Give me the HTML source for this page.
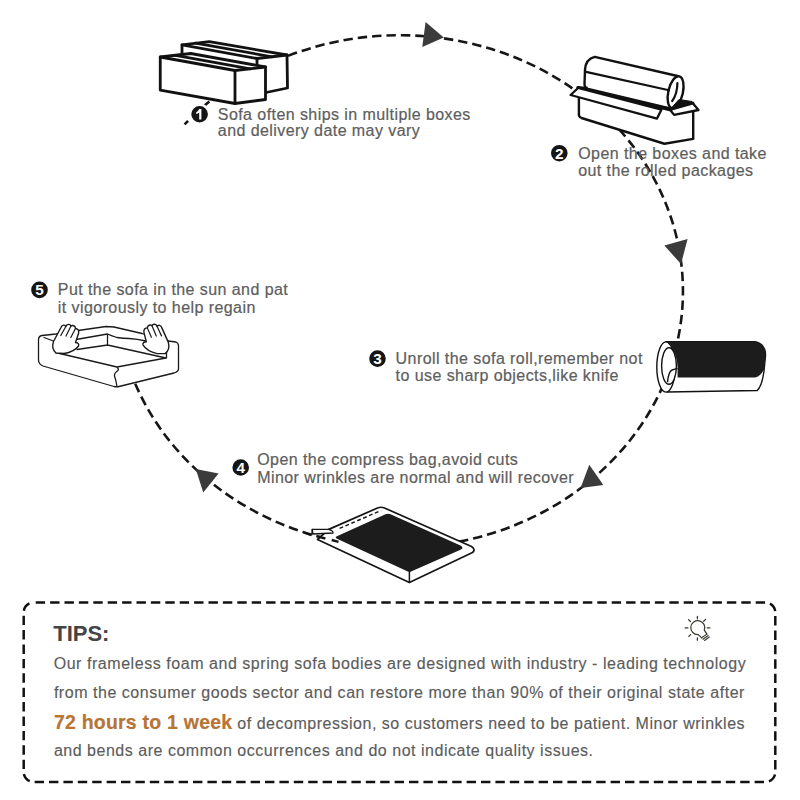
<!DOCTYPE html>
<html><head><meta charset="utf-8">
<style>
html,body{margin:0;padding:0;background:#fff;width:800px;height:800px;overflow:hidden}
svg{position:absolute;left:0;top:0}
.t{font-family:"Liberation Sans",sans-serif;font-size:16px;fill:#5e5e5e;stroke:#5e5e5e;stroke-width:0.22px;letter-spacing:0.43px}
.n{font-family:"Liberation Sans",sans-serif;font-size:15.3px;font-weight:bold;fill:#fff;text-anchor:middle}
.ln{fill:none;stroke:#111;stroke-width:2.8;stroke-linejoin:round;stroke-linecap:round}
.th{fill:#fff;stroke:#111;stroke-width:1.4;stroke-linejoin:round;stroke-linecap:round}
.b{font-family:"Liberation Sans",sans-serif;font-size:16px;fill:#5c5c5c;stroke:#5c5c5c;stroke-width:0.15px}
.or{fill:#be742e;font-weight:bold;font-size:19.5px;letter-spacing:0.22px}
</style></head>
<body>
<svg width="800" height="800" viewBox="0 0 800 800">
  <!-- main dashed ellipse path -->
  <path d="M184.6 124.4 A283.4 256.05 0 1 1 135.0 383.1" fill="none" stroke="#161616" stroke-width="2.6" stroke-dasharray="9.4 4.99" stroke-dashoffset="-10.1"/>
  <!-- arrows -->
  <g fill="#3b3b3b">
    <polygon points="425.6,21.9 422.25,46.9 443.75,37.5"/>
    <polygon points="664.4,245.6 687.6,239 681,264"/>
    <polygon points="589.25,464.75 603.35,485 580.6,488"/>
    <polygon points="195.75,469.1 218.6,473.6 203.25,492.4"/>
  </g>

  <!-- STEP 1: boxes -->
  <g class="ln" fill="#fff">
    <!-- back box -->
    <polygon points="182,44.8 209.3,41.6 287,55 287.5,88 266,92.5 182,75" fill="#fff"/>
    <polyline points="182,44.8 257,58.5 287,55" />
    <line x1="257" y1="58.5" x2="257" y2="70"/>
    <line x1="195.6" y1="43.2" x2="272" y2="56.8"/>
    <!-- front box -->
    <polygon points="160.25,57 190.75,53.5 265.5,67 265.5,99.5 235,103.5 160.25,90.1" fill="#fff"/>
    <polyline points="160.25,57 235,70.5 265.5,67"/>
    <line x1="235" y1="70.5" x2="235" y2="103.5"/>
    <line x1="175.5" y1="55.3" x2="250.3" y2="68.8"/>
  </g>

  <!-- STEP 2: box with roll -->
  <g stroke="#111" stroke-linejoin="round" stroke-linecap="round">
    <!-- box body -->
    <path d="M578.9,95 L578.9,114.5 Q578.9,117 581.5,118 L664.4,143.75 L693.2,138.9 L693.2,103 L670,109.6 L578.1,87.5 Z" fill="#fff" stroke-width="2.4"/>
    <!-- roll -->
    <path d="M594.75,56.8 L677.5,76 L670,108.3 L588,89 Q584.5,88 584.5,84 L585,70 Q585.5,59 594.75,56.8 Z" fill="#fff" stroke-width="2.4"/>
    <ellipse cx="675.6" cy="92.2" rx="7.3" ry="16.3" transform="rotate(13 675.6 92.2)" fill="#fff" stroke-width="2.4"/>
    <path d="M677.4,83 Q677.3,94 672.2,101" fill="none" stroke-width="2.2"/>
    <line x1="586" y1="71.9" x2="669" y2="90.3" stroke-width="2.2"/>
    <!-- dark interior -->
    <polygon points="577.3,86.8 587.5,87.2 584,90 578.1,89.9" fill="#111" stroke-width="1"/>
    <polygon points="670,109.6 679,99.5 692,101.5 693.2,102.7" fill="#111" stroke-width="1"/>
    <line x1="578.1" y1="87.8" x2="670" y2="109.6" stroke-width="3.2"/>
    <!-- front flap -->
    <polygon points="578.1,88 661.5,109.6 657,118.6 570.6,95" fill="#fff" stroke-width="2.3"/>
    <!-- right flap -->
    <polygon points="670,109.8 692.8,103.3 698.5,110 674.1,114.9" fill="#fff" stroke-width="2.3"/>
  </g>

  <!-- STEP 3: rolled sofa -->
  <g stroke="#111" stroke-width="1.4" stroke-linejoin="round">
    <path d="M666,341.75 L755,341.75 Q766,344 765.5,356 L764,371 Q762,386 757.25,390.5 L667,392 Z" fill="#fff"/>
    <ellipse cx="666" cy="367" rx="9.2" ry="25.1" fill="#fff"/>
    <path d="M666.5,341.75 L755,341.75 Q766,344 765.5,356 L764,369.5 Q760,377 755,377.6 L677.6,377.6 L677.6,369 Q678,352 666.5,341.75 Z" fill="#1c1c1c" stroke="none"/>
    <ellipse cx="669" cy="366" rx="7.4" ry="18.3" fill="#fff"/>
    <path d="M667.5,382.2 Q668.5,371.5 672,370 Q675,369 677.6,368.6" fill="none"/>
  </g>

  <!-- STEP 4: bag -->
  <g stroke="#151515" stroke-linejoin="round" stroke-linecap="round">
    <path d="M317.5,539.5 L328.75,529.4 L377.5,508 Q381,506.5 384.5,508 L471.5,546.5 Q476,549.5 472.5,552.5 L409.4,582.4 Z" fill="#fff" stroke-width="1.7"/>
    <path d="M409.4,571.8 L409.4,582.4" fill="none" stroke-width="1.5"/>
    <path d="M338,535.8 L385.5,514.3 Q388,513.2 390.5,514.3 L460.5,545.6 Q464.5,548 460.5,549.8 L409.4,572.2 L337,538.8 Q334,537.3 338,535.8 Z" fill="#1c1c1c" stroke="none"/>
    <line x1="339.6" y1="528.3" x2="381" y2="510.6" stroke-width="1.4" stroke-dasharray="3.8 2.6" stroke-linecap="butt"/>
    <path d="M312.2,529.4 L328.7,529.4 Q333.5,530.8 333,533 L313,534 Z" fill="#fff" stroke-width="1.3"/>
    <path d="M312.2,529.4 L311.9,534.6" stroke-width="1.3"/>
    <path d="M317.9,536.6 L325.4,538.5 M331.7,540 L338.5,541.8 M303.6,532.4 L311.5,535" stroke-width="2.4" stroke-linecap="butt"/>
  </g>

  <!-- STEP 5: sofa -->
  <g fill="#fff" stroke="#1a1a1a" stroke-width="1.3" stroke-linejoin="round" stroke-linecap="round">
    <path d="M38.5,340 Q38.5,336 42,335.5 L56,334 L78,330.5 L106,326.5 L114,327 L142,333.5 L168,341 L176,342 Q178.5,343 178.5,346 L178.5,369 Q178.5,371.5 174,373 L119,386.5 Q117,387 114,386.5 L43,366 Q38.5,364 38.5,360 Z"/>
    <path d="M44,337.5 L56,342 M55.5,352.5 L117,367 L166,358 M77,349.5 L107.5,345 L166,358 M107.5,334 L107.5,345 M76,339.5 L107.5,334 Q112,336 117,337.5 Q123,338.5 129,338.5 Q137,339 146,341 M166.5,347 L166.5,358 M168,341 L166.5,347 M117,367 Q119,369 118,370.5 Q114,373 114.5,376 Q116,380 117,386.5" fill="none"/>
    <g id="hand">
      <path d="M56,353 C52.5,350 52,346 53.5,341.5 L61,327.5 C62,324.5 65,324.5 65.8,326.5 C66.5,324 70,323.5 71,326 C72.5,325 75.5,325.5 75.5,328.5 C77.5,328.5 79.5,330.5 78.5,333.5 L75.5,342.5 C77.5,342.5 79.5,344 78.5,346 C76,349.5 70,352.5 64,353.5 Z" stroke-width="1.4"/>
      <path d="M65.8,326.5 L60.8,335.5 M71,326 L66,336 M75.5,328.5 L70.8,337.5" fill="none" stroke-width="1.2"/>
    </g>
    <use href="#hand" transform="translate(222,0) scale(-1,1) rotate(-4 66 340)"/>
  </g>

  <!-- badges -->
  <g stroke="#fff" stroke-width="2.4" fill="#151515">
    <circle cx="199.6" cy="114.25" r="9.5"/>
    <circle cx="559.3" cy="153.2" r="9.5"/>
    <circle cx="377.5" cy="358.6" r="9.5"/>
    <circle cx="240.7" cy="467.5" r="9.5"/>
    <circle cx="39.5" cy="289.9" r="9.5"/>
  </g>
  <path d="M199.2,109 L201.4,109 L201.4,119.6 L199.2,119.6 L199.2,112.5 Q197.8,113.6 196.2,114 L196.2,112.2 Q198.3,111.3 199.2,109 Z" fill="#fff"/>
  <text class="n" x="559.3" y="158.7">2</text>
  <text class="n" x="377.5" y="364.1">3</text>
  <text class="n" x="240.7" y="472.9">4</text>
  <text class="n" x="39.6" y="295.3">5</text>

  <!-- step texts -->
  <text class="t" x="217.8" y="119.5">Sofa often ships in multiple boxes</text>
  <text class="t" x="217.8" y="136.3">and delivery date may vary</text>
  <text class="t" x="578.2" y="158.5">Open the boxes and take</text>
  <text class="t" x="578.2" y="175.6">out the rolled packages</text>
  <text class="t" x="395.6" y="364">Unroll the sofa roll,remember not</text>
  <text class="t" x="395.6" y="381.2">to use sharp objects,like knife</text>
  <text class="t" x="257.2" y="465">Open the compress bag,avoid cuts</text>
  <text class="t" x="257.2" y="483">Minor wrinkles are normal and will recover</text>
  <text class="t" x="57.8" y="295.2">Put the sofa in the sun and pat</text>
  <text class="t" x="57.8" y="312.7">it vigorously to help regain</text>

  <!-- TIPS box -->
  <rect x="23.7" y="602.5" width="751.6" height="179.5" rx="10" ry="10" fill="none" stroke="#111" stroke-width="2.5" stroke-dasharray="9.4 5" stroke-dashoffset="-2"/>
  <text x="53.2" y="641" style="font-family:'Liberation Sans',sans-serif;font-size:22px;font-weight:bold;fill:#444">TIPS:</text>

  <!-- bulb -->
  <g stroke="#3a3a2c" fill="none" stroke-width="1.2" stroke-linecap="round">
    <path d="M704.3,630.2 A7 7 0 1 0 698.2,634.6 L701.8,637.9 M704.3,630.2 L706.9,634.2"/>
    <path d="M701.6,637.8 L706.8,634.1 M703,639.2 L708.2,635.5 M704.6,640.5 L709.3,637" stroke-width="1.1"/>
    <path d="M697.4,616.4 v2.4 M688.5,619.6 l1.9,1.9 M685.2,627.9 h2.7 M705.6,619.4 l-1.9,1.9 M707.3,627.9 h2.5 M688.8,636.4 l1.8,-1.8 M697.4,638 v2.2" stroke-width="1.3"/>
  </g>
<text class="b" x="53.7" y="668.6" style="letter-spacing:0.546px">Our frameless foam and spring sofa bodies are designed with industry - leading technology</text>
<text class="b" x="53.9" y="697.6" style="letter-spacing:0.534px">from the consumer goods sector and can restore more than 90% of their original state after</text>
<text class="b" x="53.9" y="729.2"><tspan class="or">72 hours to 1 week</tspan><tspan style="letter-spacing:0.52px"> of decompression, so customers need to be patient. Minor wrinkles</tspan></text>
<text class="b" x="53.9" y="756.4" style="letter-spacing:0.52px">and bends are common occurrences and do not indicate quality issues.</text>
</svg>
</body></html>
